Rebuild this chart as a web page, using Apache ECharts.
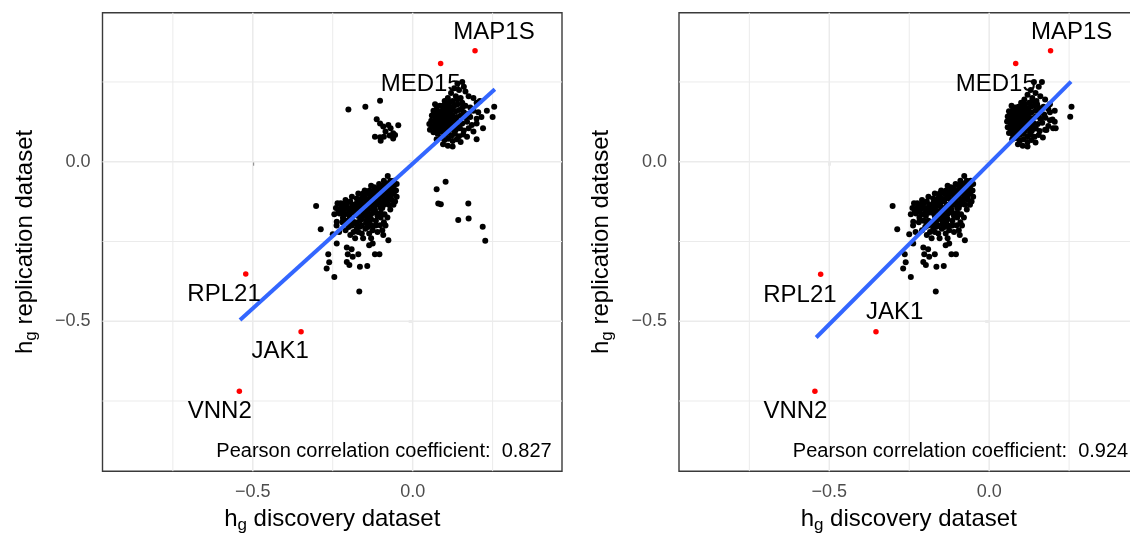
<!DOCTYPE html>
<html>
<head>
<meta charset="utf-8">
<script src="https://cdn.jsdelivr.net/npm/echarts@6/dist/echarts.min.js"></script>
<style>
html,body{margin:0;padding:0;background:#fff;}
#chart{width:1130px;height:535px;}
</style>
</head>
<body>
<div id="chart"></div>
<script>
// ---------------- DATA ----------------
const AXIS_MIN = -0.97;
const AXIS_MAX = 0.467;
const majorTicks = [-0.5, 0.0];
const minorTicks = [-0.75, -0.25, 0.25];

const xTitle = 'h{s|g} discovery dataset';
const yTitle = 'h{s|g} replication dataset';
const pearsonLabel = 'Pearson correlation coefficient:  ';
const pearsonValues = ['0.827', '0.924'];

const geneNames = ['MAP1S', 'MED15', 'RPL21', 'JAK1', 'VNN2'];
const leftGenes = [[0.195, 0.348], [0.0875, 0.3075], [-0.522, -0.352], [-0.349, -0.533], [-0.542, -0.7195]];
const rightGenes = [[0.192, 0.348], [0.083, 0.3075], [-0.527, -0.353], [-0.354, -0.533], [-0.545, -0.7195]];

const leftFit = [[-0.540, -0.496], [0.257, 0.227]];
const rightFit = [[-0.541, -0.551], [0.256, 0.251]];

// upper-right cluster, discovery panel
const leftUpper = [
[0.14,0.245],[0.155,0.25],[0.16,0.235],[0.13,0.23],[0.145,0.225],[0.12,0.215],[0.165,0.22],[0.135,0.205],[0.15,0.2],[0.11,0.2],[0.1,0.19],[0.125,0.19],[0.175,0.205],[0.19,0.2],[0.2,0.185],[0.21,0.19],
[0.07,0.18],[0.085,0.175],[0.095,0.17],[0.105,0.178],[0.115,0.172],[0.13,0.175],[0.14,0.18],[0.155,0.17],[0.165,0.175],[0.18,0.17],
[0.065,0.16],[0.075,0.165],[0.09,0.158],[0.1,0.162],[0.11,0.155],[0.12,0.16],[0.135,0.158],[0.145,0.162],[0.16,0.155],[0.175,0.15],[0.19,0.16],[0.205,0.155],
[0.06,0.145],[0.07,0.14],[0.08,0.148],[0.092,0.142],[0.102,0.146],[0.112,0.138],[0.125,0.145],[0.138,0.14],[0.15,0.145],[0.165,0.138],[0.18,0.14],[0.2,0.135],[0.215,0.14],
[0.058,0.128],[0.068,0.125],[0.078,0.13],[0.088,0.122],[0.098,0.128],[0.108,0.12],[0.118,0.126],[0.128,0.118],[0.14,0.125],[0.155,0.12],[0.17,0.125],[0.185,0.115],[0.2,0.12],
[0.06,0.11],[0.072,0.105],[0.082,0.112],[0.094,0.105],[0.104,0.11],[0.114,0.1],[0.124,0.107],[0.135,0.1],[0.148,0.105],[0.16,0.098],[0.175,0.105],[0.19,0.095],
[0.065,0.092],[0.078,0.088],[0.09,0.094],[0.1,0.085],[0.11,0.09],[0.122,0.082],[0.132,0.088],[0.145,0.08],[0.158,0.085],[0.17,0.078],
[0.075,0.07],[0.088,0.075],[0.1,0.068],[0.112,0.072],[0.125,0.065],[0.138,0.07],[0.15,0.062],[0.095,0.055],[0.11,0.05],[0.125,0.048],
[0.052,0.118],[0.054,0.1],[0.255,0.172],[0.25,0.14],[0.2,0.07],[0.22,0.105],[0.232,0.16],
[0.068,0.15],[0.078,0.155],[0.088,0.148],[0.097,0.152],[0.106,0.145],[0.116,0.15],[0.083,0.135],[0.093,0.13],[0.103,0.135],[0.113,0.128],
[0.123,0.133],[0.073,0.118],[0.083,0.115],[0.093,0.118],[0.103,0.098],[0.113,0.112],[0.07,0.098],[0.085,0.1],[0.12,0.12],[0.13,0.13],
[0.14,0.11],[0.095,0.175],[0.11,0.168],[0.125,0.168],[0.1,0.115],[0.13,0.095],[0.078,0.098],[0.115,0.185],[0.14,0.195],[0.155,0.185]
];

// small cluster above the diagonal, discovery panel
const leftMid = [
[-0.201,0.164],[-0.148,0.172],[-0.102,0.191],[-0.1125,0.133],[-0.102,0.120],[-0.092,0.110],[-0.076,0.115],[-0.069,0.105],
[-0.045,0.114],[-0.061,0.089],[-0.055,0.084],[-0.118,0.078],[-0.102,0.077],[-0.090,0.078],[-0.061,0.073],[-0.100,0.066],
[-0.085,0.095],[-0.072,0.082]
];

// scattered points below the diagonal, discovery panel
const leftLowRight = [
[0.075,-0.086],[0.103,-0.063],[0.080,-0.131],[0.088,-0.133],[0.174,-0.131],[0.1425,-0.183],[0.175,-0.178],[0.219,-0.204],[0.227,-0.248]
];

// lower-left cluster (both panels)
const lowerCluster = [
[-0.05,-0.07],[-0.052,-0.09],[-0.05,-0.11],[-0.055,-0.125],[-0.058,-0.06],[-0.06,-0.08],[-0.062,-0.1],[-0.06,-0.135],
[-0.078,-0.045],[-0.07,-0.06],[-0.075,-0.075],[-0.068,-0.09],[-0.072,-0.105],[-0.08,-0.115],[-0.066,-0.12],[-0.075,-0.135],[-0.07,-0.15],[-0.082,-0.068],[-0.085,-0.088],
[-0.09,-0.06],[-0.095,-0.075],[-0.1,-0.09],[-0.092,-0.1],[-0.088,-0.12],[-0.098,-0.13],[-0.095,-0.145],[-0.1,-0.16],[-0.088,-0.165],[-0.105,-0.07],
[-0.11,-0.085],[-0.115,-0.1],[-0.108,-0.11],[-0.12,-0.12],[-0.112,-0.135],[-0.118,-0.15],[-0.11,-0.17],[-0.12,-0.08],[-0.125,-0.095],
[-0.13,-0.075],[-0.135,-0.09],[-0.128,-0.11],[-0.14,-0.12],[-0.132,-0.135],[-0.138,-0.15],[-0.13,-0.165],[-0.142,-0.175],[-0.135,-0.19],[-0.128,-0.2],
[-0.15,-0.09],[-0.155,-0.105],[-0.148,-0.115],[-0.16,-0.13],[-0.152,-0.14],[-0.158,-0.155],[-0.15,-0.165],[-0.16,-0.18],[-0.148,-0.21],[-0.155,-0.1],
[-0.17,-0.1],[-0.175,-0.115],[-0.168,-0.125],[-0.18,-0.14],[-0.172,-0.15],[-0.178,-0.16],[-0.17,-0.17],[-0.165,-0.185],[-0.18,-0.19],
[-0.19,-0.11],[-0.195,-0.125],[-0.188,-0.135],[-0.2,-0.145],[-0.192,-0.155],[-0.198,-0.17],[-0.19,-0.185],[-0.2,-0.205],[-0.185,-0.22],
[-0.21,-0.12],[-0.215,-0.135],[-0.208,-0.145],[-0.22,-0.155],[-0.212,-0.165],[-0.218,-0.175],[-0.225,-0.13],[-0.21,-0.215],
[-0.235,-0.13],[-0.24,-0.145],[-0.232,-0.155],[-0.245,-0.165],[-0.238,-0.2],[-0.23,-0.22],
[-0.302,-0.139],[-0.2875,-0.212],[-0.25,-0.227],[-0.2375,-0.256],[-0.264,-0.290],[-0.261,-0.315],[-0.269,-0.3345],[-0.245,-0.361],[-0.167,-0.407],
[-0.206,-0.269],[-0.191,-0.274],[-0.203,-0.290],[-0.1875,-0.298],[-0.170,-0.290],[-0.206,-0.314],[-0.198,-0.324],[-0.165,-0.3295],[-0.142,-0.327],
[-0.136,-0.262],[-0.125,-0.256],[-0.118,-0.290],[-0.104,-0.290],[-0.092,-0.230],[-0.076,-0.246],[-0.079,-0.1745],[-0.102,-0.199],[-0.136,-0.225],
[-0.159,-0.225],[-0.180,-0.240],[-0.175,-0.209],[-0.196,-0.199],[-0.165,-0.204],[-0.146,-0.193],[-0.217,-0.181],[-0.2375,-0.188],[-0.229,-0.162],
[-0.065,-0.07],[-0.08,-0.08],[-0.09,-0.085],[-0.1,-0.1],[-0.105,-0.115],[-0.115,-0.09],[-0.125,-0.105],[-0.135,-0.115],[-0.145,-0.125],[-0.14,-0.1],
[-0.16,-0.115],[-0.165,-0.14],[-0.175,-0.13],[-0.185,-0.145],[-0.19,-0.16],[-0.205,-0.13],[-0.2,-0.16],[-0.215,-0.15],[-0.225,-0.145],[-0.085,-0.1],
[-0.078,-0.095],[-0.058,-0.095],[-0.068,-0.11],[-0.09,-0.135],[-0.105,-0.125],[-0.12,-0.135],[-0.125,-0.15],[-0.145,-0.145],[-0.155,-0.17],[-0.17,-0.155],
[-0.145,-0.16],[-0.112,-0.12],[-0.095,-0.11],[-0.082,-0.125],[-0.115,-0.16],[-0.1,-0.145],
[-0.22,-0.19],[-0.205,-0.185],[-0.19,-0.2],[-0.175,-0.195],[-0.16,-0.2],[-0.145,-0.185],[-0.13,-0.18],[-0.115,-0.185],[-0.1,-0.175],[-0.09,-0.19],
[-0.085,-0.2],[-0.115,-0.2],[-0.125,-0.215],[-0.14,-0.205],[-0.17,-0.22],[-0.195,-0.23],[-0.155,-0.24],[-0.13,-0.24],[-0.11,-0.22],[-0.095,-0.215]
];

// upper-right cluster, second panel
const rightUpper = [
[0.14,0.25],[0.165,0.25],[0.155,0.235],[0.13,0.225],[0.145,0.215],[0.12,0.21],[0.16,0.205],[0.135,0.2],[0.11,0.195],[0.1,0.185],[0.125,0.185],[0.148,0.19],[0.175,0.195],[0.19,0.18],
[0.07,0.175],[0.082,0.17],[0.094,0.168],[0.106,0.174],[0.118,0.168],[0.13,0.172],[0.142,0.176],[0.156,0.168],[0.17,0.172],[0.185,0.165],
[0.062,0.158],[0.074,0.162],[0.086,0.155],[0.098,0.16],[0.108,0.152],[0.12,0.158],[0.132,0.154],[0.144,0.16],[0.158,0.152],[0.172,0.148],[0.19,0.155],
[0.058,0.142],[0.068,0.138],[0.08,0.145],[0.09,0.138],[0.1,0.144],[0.11,0.136],[0.122,0.142],[0.134,0.136],[0.146,0.142],[0.16,0.135],[0.176,0.138],[0.198,0.132],
[0.056,0.126],[0.066,0.122],[0.076,0.128],[0.086,0.12],[0.096,0.126],[0.106,0.118],[0.116,0.124],[0.126,0.116],[0.138,0.122],[0.152,0.118],[0.166,0.122],[0.185,0.112],[0.205,0.125],
[0.058,0.108],[0.07,0.104],[0.08,0.11],[0.092,0.102],[0.102,0.108],[0.112,0.098],[0.122,0.105],[0.134,0.098],[0.146,0.104],[0.158,0.096],[0.175,0.1],[0.2,0.105],
[0.062,0.09],[0.074,0.086],[0.086,0.092],[0.096,0.084],[0.108,0.088],[0.12,0.08],[0.13,0.086],[0.142,0.078],[0.155,0.084],[0.168,0.076],
[0.072,0.07],[0.084,0.074],[0.096,0.066],[0.108,0.07],[0.12,0.062],[0.132,0.068],[0.145,0.06],[0.09,0.055],[0.105,0.05],[0.12,0.048],
[0.2575,0.1726],[0.2535,0.141],[0.208,0.105],[0.179,0.0995],[0.19,0.13],[0.205,0.16],
[0.065,0.148],[0.075,0.152],[0.085,0.142],[0.095,0.148],[0.105,0.14],[0.115,0.146],[0.08,0.132],[0.09,0.126],[0.1,0.132],[0.11,0.124],
[0.12,0.13],[0.07,0.115],[0.08,0.118],[0.09,0.112],[0.1,0.095],[0.11,0.108],[0.068,0.096],[0.082,0.096],[0.118,0.115],[0.128,0.128],
[0.138,0.108],[0.092,0.172],[0.108,0.165],[0.122,0.165],[0.098,0.112],[0.128,0.092],[0.076,0.08],[0.112,0.18],[0.135,0.19],[0.15,0.18]
];

// ---------------- STYLE / LAYOUT ----------------
const FONT = '"Liberation Sans", Arial, Helvetica, sans-serif';
const panels = [
  { left: 102.5, top: 12.7, width: 459.5, height: 458.5 },
  { left: 679, top: 12.7, width: 459.5, height: 458.5 }
];
const labelOffsets = [
  [[19, -18.5], [-20, 21], [-21.7, 20], [-21, 20], [-19.6, 19.8]],
  [[21, -18.5], [-20, 21], [-20.7, 20.7], [18.7, -19.2], [-19.5, 19.8]]
];

function fmt(v) {
  return (v < 0 ? '\u2212' : '') + Math.abs(v).toFixed(1);
}

const titleStyle = {
  fontSize: 24, color: '#000', fontFamily: FONT,
  rich: { s: { fontSize: 17, color: '#000', fontFamily: FONT, padding: [12, 0, 0, 0] } }
};

function axis(gridIndex, isX) {
  return {
    type: 'value', gridIndex: gridIndex, min: AXIS_MIN, max: AXIS_MAX,
    splitLine: { show: false },
    axisLine: { show: false },
    axisTick: { show: true, customValues: majorTicks, length: 4, lineStyle: { color: '#333', width: 1.2 } },
    axisLabel: { customValues: majorTicks, formatter: fmt, color: '#4D4D4D', fontSize: 18, fontFamily: FONT, margin: 12 },
    name: isX ? xTitle : yTitle,
    nameLocation: 'middle',
    nameGap: isX ? 33.5 : 63,
    nameMoveOverlap: false,
    nameTextStyle: titleStyle
  };
}

const series = [];
function gridLines(gi) {
  const all = minorTicks.map(t => ({ t: t, w: 1 })).concat(majorTicks.map(t => ({ t: t, w: 1.5 })));
  all.forEach(g => {
    series.push({ type: 'line', xAxisIndex: gi, yAxisIndex: gi, z: 1, silent: true, symbol: 'none',
      lineStyle: { color: '#EBEBEB', width: g.w }, data: [[g.t, AXIS_MIN], [g.t, AXIS_MAX]] });
    series.push({ type: 'line', xAxisIndex: gi, yAxisIndex: gi, z: 1, silent: true, symbol: 'none',
      lineStyle: { color: '#EBEBEB', width: g.w }, data: [[AXIS_MIN, g.t], [AXIS_MAX, g.t]] });
  });
}
function panel(gi, black, fit, genes) {
  gridLines(gi);
  series.push({ type: 'scatter', xAxisIndex: gi, yAxisIndex: gi, z: 2, symbolSize: 6,
    itemStyle: { color: '#000', opacity: 1 }, data: black });
  series.push({ type: 'line', xAxisIndex: gi, yAxisIndex: gi, z: 3, symbol: 'none',
    lineStyle: { color: '#3366FF', width: 4, opacity: 1 }, data: fit });
  series.push({ type: 'scatter', xAxisIndex: gi, yAxisIndex: gi, z: 4, symbolSize: 5.5,
    itemStyle: { color: '#FF0000', opacity: 1 },
    label: { show: true, position: 'inside', formatter: '{b}', color: '#000', opacity: 1, fontSize: 24, fontFamily: FONT },
    data: genes.map((p, i) => ({ name: geneNames[i], value: p, label: { offset: labelOffsets[gi][i] } })) });
}
panel(0, leftUpper.concat(leftMid, leftLowRight, lowerCluster), leftFit, leftGenes);
panel(1, rightUpper.concat(lowerCluster), rightFit, rightGenes);

const graphics = panels.map((p, i) => ({
  type: 'text', x: p.left + 449.2, y: p.top + 438.5, z: 10,
  style: { text: pearsonLabel + pearsonValues[i], align: 'right', verticalAlign: 'middle',
    fontSize: 20, fontFamily: FONT, fill: '#000' }
}));

const chart = echarts.init(document.getElementById('chart'), null, { renderer: 'canvas' });
chart.setOption({
  animation: false,
  backgroundColor: '#fff',
  grid: panels.map(p => ({ left: p.left, top: p.top, width: p.width, height: p.height,
    show: true, borderColor: '#3a3a3a', borderWidth: 1.4, backgroundColor: 'transparent',
    containLabel: false, outerBoundsMode: 'none' })),
  xAxis: [axis(0, true), axis(1, true)],
  yAxis: [axis(0, false), axis(1, false)],
  graphic: graphics,
  series: series
});
</script>
</body>
</html>
